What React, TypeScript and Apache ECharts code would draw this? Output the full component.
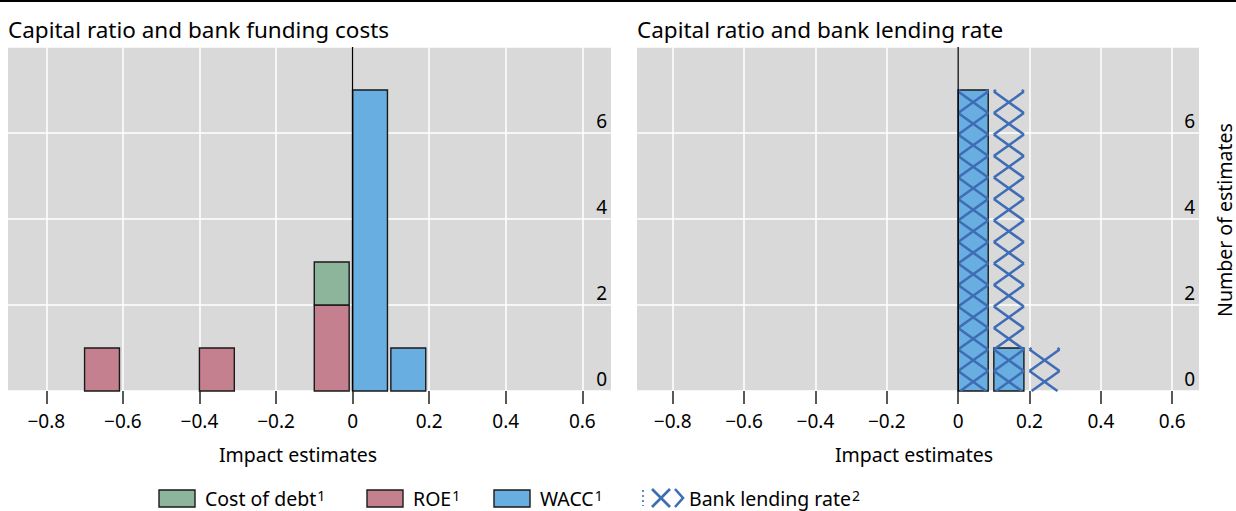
import React, { useEffect, useRef } from 'react';
import * as echarts from 'echarts';

// ---------- data ----------
const panelTitles = ['Capital ratio and bank funding costs', 'Capital ratio and bank lending rate'];
const xAxisName = 'Impact estimates';
const yAxisName = 'Number of estimates';
const xTickValues = [-0.8, -0.6, -0.4, -0.2, 0, 0.2, 0.4, 0.6];
const xMin = -0.9;
const xMax = 0.675;
const yMin = 0;
const yMax = 8;
const yInterval = 2;
const binWidth = 0.1;

const roeBins = [-0.7, -0.4, -0.1];
const roeCounts = [1, 1, 2];
const costOfDebtBins = [-0.1];
const costOfDebtCounts = [1];
const waccBins = [0, 0.1];
const waccCounts = [7, 1];
const lendingBins = [0, 0.1, 0.2];
const lendingCounts = [7, 7, 1];
const zeroLineX = [0];

const legendItems = [
  { name: 'Cost of debt', note: '1' },
  { name: 'ROE', note: '1' },
  { name: 'WACC', note: '1' },
  { name: 'Bank lending rate', note: '2' },
];

// ---------- styles ----------
const FONT = 'Noto Sans';
const C_DEBT = '#8cb59b';
const C_ROE = '#c5808f';
const C_WACC = '#69aee0';
const C_HATCH = '#3f6db5';
const C_BG = '#d9d9d9';
const F_TITLE = 22.5;
const F_TICK = 19;
const F_NAME = 19.5;

const toRects = (bins: number[], counts: number[], base?: (b: number) => number) =>
  bins.map((b, i) => {
    const y0 = base ? base(b) : 0;
    return [b, b + binWidth, y0, y0 + counts[i]];
  });

const roeBase = (b: number) => {
  const idx = roeBins.findIndex((v) => Math.abs(v - b) < 1e-9);
  return idx >= 0 ? roeCounts[idx] : 0;
};

const makeBar = (fill: string, gap: number) => (params: any, api: any) => {
  const a = api.coord([api.value(0), api.value(3)]);
  const b = api.coord([api.value(1), api.value(2)]);
  return {
    type: 'rect',
    shape: { x: a[0], y: a[1], width: b[0] - a[0] - gap, height: b[1] - a[1] },
    style: { fill, stroke: '#1a1a1a', lineWidth: 1.4 },
  };
};

const makeHatch = (color: string, gap: number) => (params: any, api: any) => {
  const a = api.coord([api.value(0), api.value(3)]);
  const b = api.coord([api.value(1), api.value(2)]);
  const L = a[0];
  const R = b[0] - gap;
  const T = a[1];
  const B = b[1];
  const p = api.size([0, 0.5])[1];
  const off = p * 0.43;
  const children: any[] = [];
  const n = Math.ceil((B - T) / p) + 2;
  for (let k = -1; k <= n; k++) {
    const yc = B - off - k * p;
    for (const s of [1, -1]) {
      const ya = yc - (s * p) / 2;
      const yb = yc + (s * p) / 2;
      const dy = yb - ya;
      const tT = (T - ya) / dy;
      const tB = (B - ya) / dy;
      const t0 = Math.max(0, Math.min(tT, tB));
      const t1 = Math.min(1, Math.max(tT, tB));
      if (t1 <= t0) continue;
      children.push({
        type: 'line',
        shape: { x1: L + (R - L) * t0, y1: ya + dy * t0, x2: L + (R - L) * t1, y2: ya + dy * t1 },
        style: { stroke: color, lineWidth: 2.6 },
      });
    }
  }
  return { type: 'group', children };
};

const zeroLineRender = (params: any, api: any) => {
  const x = api.coord([api.value(0), 0])[0];
  const cs = params.coordSys;
  return {
    type: 'line',
    shape: { x1: x, y1: cs.y, x2: x, y2: cs.y + cs.height },
    style: { stroke: '#000', lineWidth: 1.3 },
  };
};

const fmtX = (v: number) => (Math.abs(v) < 1e-9 ? '0' : v.toFixed(1).replace('-', '\u2212'));

const makeXAxis = (gridIndex: number) => ({
  type: 'value',
  gridIndex,
  min: xMin,
  max: xMax,
  axisLine: { show: false },
  axisTick: { show: true, customValues: xTickValues, length: 13, lineStyle: { color: '#222', width: 1.5 } },
  axisLabel: {
    customValues: xTickValues,
    formatter: fmtX,
    margin: 20,
    fontSize: F_TICK,
    color: '#000',
    fontFamily: FONT,
  },
  splitLine: { show: true, lineStyle: { color: '#fff', width: 1.5 } },
});

const makeYAxis = (gridIndex: number) => ({
  type: 'value',
  gridIndex,
  position: 'right',
  min: yMin,
  max: yMax,
  interval: yInterval,
  axisLine: { show: false },
  axisTick: { show: false },
  axisLabel: {
    inside: true,
    margin: 4,
    fontSize: F_TICK,
    color: '#000',
    fontFamily: FONT,
    verticalAlign: 'bottom',
    padding: [0, 0, 3, 0],
    formatter: (v: number) => (v >= yMax ? '' : String(v)),
  },
  splitLine: { show: true, lineStyle: { color: '#fff', width: 1.5 } },
});

const App: React.FC = () => {
  const ref = useRef<HTMLDivElement>(null);
  useEffect(() => {
    if (!ref.current) return;
    const chart = echarts.init(ref.current, undefined, { renderer: 'svg' });

    const legendX = [159, 367, 494, 640];
    const legendGraphics: any[] = [];
    legendItems.forEach((it, i) => {
      const x = legendX[i];
      if (i < 3) {
        const fill = [C_DEBT, C_ROE, C_WACC][i];
        legendGraphics.push({
          type: 'rect',
          shape: { x, y: 490, width: 36, height: 17 },
          style: { fill, stroke: '#1a1a1a', lineWidth: 1.4 },
        });
      } else {
        const st = { stroke: C_HATCH, lineWidth: 2.6 };
        legendGraphics.push(
          { type: 'line', shape: { x1: 652, y1: 489, x2: 670, y2: 507 }, style: st },
          { type: 'line', shape: { x1: 652, y1: 507, x2: 670, y2: 489 }, style: st },
          { type: 'polyline', shape: { points: [[675, 489], [683, 498], [675, 507]] }, style: { ...st, fill: 'none' } },
          { type: 'line', shape: { x1: 643, y1: 490, x2: 643, y2: 506 }, style: { stroke: C_HATCH, lineWidth: 1.6, lineDash: [2, 3] } }
        );
      }
      legendGraphics.push({
        type: 'text',
        x: x + (i < 3 ? 46 : 49),
        y: 498,
        style: {
          text: `{a|${it.name}}{s|${it.note}}`,
          verticalAlign: 'middle',
          fill: '#000',
          rich: {
            a: { fontSize: F_NAME, fontFamily: FONT, fill: '#000' },
            s: { fontSize: 14, fontFamily: FONT, fill: '#000', verticalAlign: 'top', padding: [0, 0, 4, 1] },
          },
        },
      });
    });

    const option: any = {
      animation: false,
      grid: [
        { left: 8, top: 47, width: 603, height: 344, show: true, backgroundColor: C_BG, borderWidth: 0 },
        { left: 637, top: 47, width: 562, height: 344, show: true, backgroundColor: C_BG, borderWidth: 0 },
      ],
      xAxis: [makeXAxis(0), makeXAxis(1)],
      yAxis: [makeYAxis(0), makeYAxis(1)],
      series: [
        {
          type: 'custom', name: 'ROE', xAxisIndex: 0, yAxisIndex: 0,
          renderItem: makeBar(C_ROE, 3.4), encode: { x: [0, 1], y: [2, 3] },
          data: toRects(roeBins, roeCounts),
        },
        {
          type: 'custom', name: 'Cost of debt', xAxisIndex: 0, yAxisIndex: 0,
          renderItem: makeBar(C_DEBT, 3.4), encode: { x: [0, 1], y: [2, 3] },
          data: toRects(costOfDebtBins, costOfDebtCounts, roeBase),
        },
        {
          type: 'custom', name: 'WACC', xAxisIndex: 0, yAxisIndex: 0,
          renderItem: makeBar(C_WACC, 3.4), encode: { x: [0, 1], y: [2, 3] },
          data: toRects(waccBins, waccCounts),
        },
        {
          type: 'custom', name: 'zero', xAxisIndex: 0, yAxisIndex: 0, silent: true,
          renderItem: zeroLineRender, encode: { x: 0, y: 1 },
          data: zeroLineX.map((v) => [v, yMin]),
        },
        {
          type: 'custom', name: 'WACC', xAxisIndex: 1, yAxisIndex: 1,
          renderItem: makeBar(C_WACC, 5.6), encode: { x: [0, 1], y: [2, 3] },
          data: toRects(waccBins, waccCounts),
        },
        {
          type: 'custom', name: 'Bank lending rate', xAxisIndex: 1, yAxisIndex: 1,
          renderItem: makeHatch(C_HATCH, 5.6), encode: { x: [0, 1], y: [2, 3] },
          data: toRects(lendingBins, lendingCounts),
        },
        {
          type: 'custom', name: 'zero', xAxisIndex: 1, yAxisIndex: 1, silent: true,
          renderItem: zeroLineRender, encode: { x: 0, y: 1 },
          data: zeroLineX.map((v) => [v, yMin]),
        },
      ],
      graphic: [
        { type: 'line', shape: { x1: 0, y1: 1, x2: 1236, y2: 1 }, style: { stroke: '#000', lineWidth: 2 } },
        {
          type: 'text', x: 8, y: 29,
          style: { text: panelTitles[0], fontSize: F_TITLE, fontFamily: FONT, fill: '#000', verticalAlign: 'middle' },
        },
        {
          type: 'text', x: 637, y: 29,
          style: { text: panelTitles[1], fontSize: F_TITLE, fontFamily: FONT, fill: '#000', verticalAlign: 'middle' },
        },
        {
          type: 'text', x: 298, y: 454,
          style: { text: xAxisName, fontSize: F_NAME, fontFamily: FONT, fill: '#000', align: 'center', verticalAlign: 'middle' },
        },
        {
          type: 'text', x: 914, y: 454,
          style: { text: xAxisName, fontSize: F_NAME, fontFamily: FONT, fill: '#000', align: 'center', verticalAlign: 'middle' },
        },
        {
          type: 'text', x: 1224, y: 220, rotation: Math.PI / 2,
          style: { text: yAxisName, fontSize: F_NAME, fontFamily: FONT, fill: '#000', align: 'center', verticalAlign: 'middle' },
        },
        ...legendGraphics,
      ],
    };
    chart.setOption(option);
    return () => chart.dispose();
  }, []);
  return <div ref={ref} style={{ position: 'absolute', left: 0, top: 0, width: 1236, height: 511 }} />;
};

export default App;
